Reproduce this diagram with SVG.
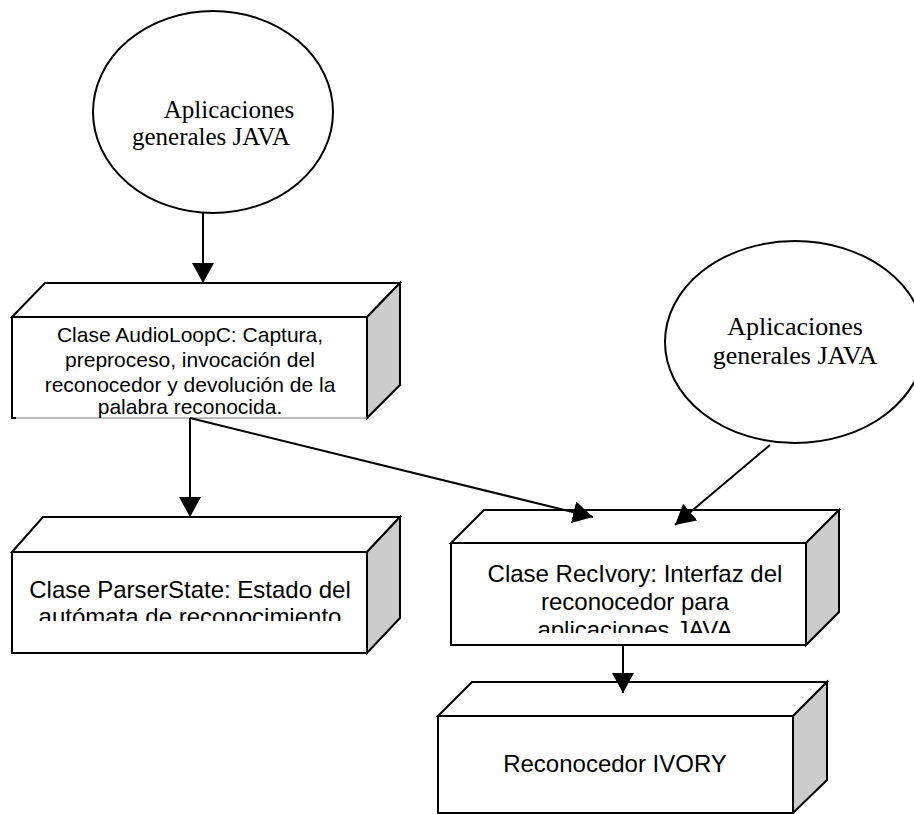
<svg xmlns="http://www.w3.org/2000/svg" width="914" height="814" viewBox="0 0 914 814">
<style>
.edge{fill:none;stroke:#000;stroke-width:2;stroke-linejoin:miter}
.face{fill:#fff;stroke:#000;stroke-width:2}
.side{fill:#cccccc;stroke:#000;stroke-width:2}
.ell{fill:#fff;stroke:#000;stroke-width:2}
.conn{fill:none;stroke:#000;stroke-width:2}
.sans{font-family:"Liberation Sans",Arial,sans-serif;fill:#000;text-anchor:middle}
.serif{font-family:"Liberation Serif","Times New Roman",serif;fill:#000;text-anchor:middle}
</style>
<defs>
<marker id="arr" viewBox="0 0 20 22" refX="20" refY="11" markerWidth="20" markerHeight="22" markerUnits="userSpaceOnUse" orient="auto">
<path d="M0,0 L20,11 L0,22 z" fill="#000"/>
</marker>
<clipPath id="clip2"><rect x="12" y="552" width="355" height="69"/></clipPath>
<clipPath id="clip3"><rect x="451" y="543" width="355" height="90"/></clipPath>
</defs>
<rect width="914" height="814" fill="#fff"/>

<g id="app1">
<ellipse class="ell" cx="213" cy="112" rx="120" ry="101"/>
<text class="serif" font-size="25" x="229" y="118">Aplicaciones</text>
<text class="serif" font-size="25" x="211" y="145">generales JAVA</text>
</g>

<g id="app2">
<ellipse class="ell" cx="795" cy="342" rx="130" ry="101"/>
<text class="serif" font-size="26" x="795" y="335">Aplicaciones</text>
<text class="serif" font-size="26" x="795" y="364">generales JAVA</text>
</g>

<g id="audioloop">
<polygon class="face" points="12,317 45,283 400,283 367,317"/>
<polygon class="side" points="367,317 400,283 400,385 367,418"/>
<rect x="12" y="317" width="355" height="101" fill="#fff"/>
<path class="edge" d="M16,418 L12,418 L12,317 L367,317 L367,418"/>
<line x1="16" y1="418" x2="367" y2="418" stroke="#777" stroke-width="1"/>
<text class="sans" font-size="21" x="190" y="342">Clase AudioLoopC: Captura,</text>
<text class="sans" font-size="21" x="190" y="367">preproceso, invocación del</text>
<text class="sans" font-size="21" x="190" y="392">reconocedor y devolución de la</text>
<text class="sans" font-size="21" x="190" y="414">palabra reconocida.</text>
</g>

<g id="parserstate">
<polygon class="face" points="12,552 43,517 400,517 367,552"/>
<polygon class="side" points="367,552 400,517 400,618 367,653"/>
<rect class="face" x="12" y="552" width="355" height="101"/>
<g clip-path="url(#clip2)">
<text class="sans" font-size="24" x="190" y="598">Clase ParserState: Estado del</text>
<text class="sans" font-size="24" x="190" y="625">autómata de reconocimiento</text>
</g>
</g>

<g id="recivory">
<polygon class="face" points="451,543 484,510 839,510 806,543"/>
<polygon class="side" points="806,543 839,510 839,612 806,645"/>
<rect class="face" x="451" y="543" width="355" height="102"/>
<g clip-path="url(#clip3)">
<text class="sans" font-size="24" x="635" y="582">Clase RecIvory: Interfaz del</text>
<text class="sans" font-size="24" x="635" y="610">reconocedor para</text>
<text class="sans" font-size="24" x="635" y="638">aplicaciones JAVA</text>
</g>
</g>

<g id="ivory">
<polygon class="face" points="438,716 472,682 827,682 793,716"/>
<polygon class="side" points="793,716 827,682 827,780 793,813"/>
<rect class="face" x="438" y="716" width="355" height="97"/>
<text class="sans" font-size="24" x="615" y="772">Reconocedor IVORY</text>
</g>

<g id="connectors">
<line class="conn" x1="203" y1="213" x2="203" y2="283" marker-end="url(#arr)"/>
<line class="conn" x1="190" y1="418" x2="190" y2="517" marker-end="url(#arr)"/>
<line class="conn" x1="190" y1="418" x2="593" y2="517" marker-end="url(#arr)"/>
<line class="conn" x1="770" y1="445" x2="675" y2="525" marker-end="url(#arr)"/>
<line class="conn" x1="623" y1="645" x2="623" y2="693" marker-end="url(#arr)"/>
</g>
</svg>
